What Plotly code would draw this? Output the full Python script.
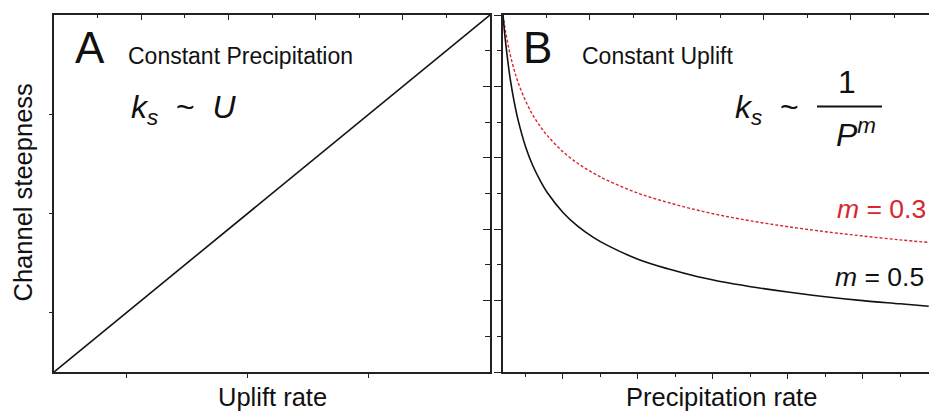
import plotly.graph_objects as go

W, H = 929, 412
FONT = "Liberation Sans, Arial, Helvetica, sans-serif"
INK = "#222222"
RED = "#d8262e"

# Panel A: steepness grows linearly with uplift (arbitrary units)
uplift_rate = [0.4, 4.0]
steepness_uplift = [0.4, 4.0]
uplift_ticks = [1, 2, 3]

# Panel B: steepness falls with precipitation for two concavity exponents
precip_rate = [1.0, 1.1, 1.2, 1.35, 1.5, 1.75, 2.0, 2.5, 3.0, 3.5, 4.0, 5.0, 6.0,
               7.0, 8.0, 10.0, 12.0, 14.0, 16.0, 18.0, 20.0, 22.5, 25.0, 27.5, 29.4]
steepness_m05 = [1.000, 0.953, 0.913, 0.861, 0.816, 0.756, 0.707, 0.632, 0.577,
                 0.535, 0.500, 0.447, 0.408, 0.378, 0.354, 0.316, 0.289, 0.267,
                 0.250, 0.236, 0.224, 0.211, 0.200, 0.191, 0.184]
steepness_m03 = [1.000, 0.972, 0.947, 0.914, 0.885, 0.846, 0.812, 0.760, 0.719,
                 0.687, 0.660, 0.617, 0.584, 0.558, 0.536, 0.501, 0.475, 0.453,
                 0.435, 0.420, 0.407, 0.393, 0.381, 0.370, 0.363]


def px(x):
    return x / W


def py(y):
    return 1 - y / H


XA = [px(54), px(490)]
XB = [px(503), 1.0]
YD = [py(372), py(15)]

fig = go.Figure()

fig.add_trace(go.Scatter(x=uplift_rate, y=steepness_uplift, mode="lines",
                         line=dict(color="#111111", width=1.6),
                         xaxis="x", yaxis="y", hoverinfo="skip"))
fig.add_trace(go.Scatter(x=precip_rate, y=steepness_m03, mode="lines",
                         line=dict(color=RED, width=1.4, dash="3px,2px", shape="spline"),
                         xaxis="x2", yaxis="y2", hoverinfo="skip"))
fig.add_trace(go.Scatter(x=precip_rate, y=steepness_m05, mode="lines",
                         line=dict(color="#111111", width=1.6, shape="spline"),
                         xaxis="x2", yaxis="y2", hoverinfo="skip"))
# empty traces so the frame-only axes get their subplots
for xa, ya in [("x3", "y"), ("x", "y3"), ("x4", "y2")]:
    fig.add_trace(go.Scatter(x=[], y=[], xaxis=xa, yaxis=ya, hoverinfo="skip"))

base = dict(showgrid=False, zeroline=False, showticklabels=False, showline=True,
            linecolor=INK, linewidth=1.6, tickcolor=INK, tickwidth=1.4)


def minor(dtick, ticks, ticklen, tick0=0):
    return dict(dtick=dtick, tick0=tick0, ticks=ticks, ticklen=ticklen,
                tickcolor=INK, tickwidth=1.3, showgrid=False)


fig.update_layout(
    width=W, height=H, margin=dict(l=0, r=0, t=0, b=0),
    paper_bgcolor="white", plot_bgcolor="white", showlegend=False,
    # panel A frame
    xaxis=dict(base, domain=XA, range=[0.4, 4.0], anchor="y",
               tickvals=uplift_ticks, ticks="outside", ticklen=4),
    yaxis=dict(base, domain=YD, range=[0.4, 4.0], anchor="x",
               tickvals=uplift_ticks, ticks="outside", ticklen=3),
    xaxis3=dict(base, overlaying="x", side="top", anchor="y", range=[0, 10],
                tick0=0, dtick=2, ticks="inside", ticklen=5,
                minor=minor(1, "inside", 3)),
    yaxis3=dict(base, overlaying="y", side="right", anchor="x", range=[0, 10],
                tick0=0, dtick=2, ticks="inside", ticklen=7,
                minor=minor(1, "inside", 5)),
    # panel B frame
    xaxis2=dict(base, domain=XB, range=[1.0, 29.42], anchor="y2",
                tick0=0, dtick=5, ticks="outside", ticklen=5,
                minor=minor(2.5, "outside", 3)),
    yaxis2=dict(base, domain=YD, range=[0, 1], anchor="x2",
                tick0=0, dtick=0.2, ticks="outside", ticklen=7,
                minor=minor(0.1, "outside", 4)),
    xaxis4=dict(base, overlaying="x2", side="top", anchor="y2", range=[0, 9.8],
                tick0=0, dtick=2, ticks="inside", ticklen=5,
                minor=minor(1, "inside", 3)),
)


def label(text, x, y, size, xanchor="left", yanchor="middle", color="#111111",
          angle=0):
    fig.add_annotation(text=text, x=px(x), y=py(y), xref="paper", yref="paper",
                       xanchor=xanchor, yanchor=yanchor, showarrow=False,
                       textangle=angle, font=dict(family=FONT, size=size, color=color))


NB = "\u00a0"

# axis titles
label("Channel steepness", 23, 192.5, 25.5, xanchor="center", angle=-90)
label("Uplift rate", 272.5, 396.5, 25.5, xanchor="center")
label("Precipitation rate", 721, 396.5, 25.5, xanchor="center")

# panel letters and headings
label("A", 73, 47.5, 44)
label("B", 521, 47.5, 44)
label("Constant Precipitation", 126, 55.5, 23)
label("Constant Uplift", 580, 55.5, 23)

# scaling relations
label("<i>k</i><sub><i>s</i></sub>" + NB * 2 + "~" + NB * 2 + "<i>U</i>", 129, 109, 32)
label("<i>k</i><sub><i>s</i></sub>" + NB * 2 + "~", 733, 109, 32)
label("1", 847, 82, 32, xanchor="center")
label("<i>P</i><sup><i>m</i></sup>", 834, 133, 32)
fig.add_shape(type="line", xref="paper", yref="paper",
              x0=px(817), x1=px(882), y0=py(106.5), y1=py(106.5),
              line=dict(color="#111111", width=2))

# exponent labels
label("<i>m</i>" + NB + "=" + NB + "0.3", 928, 208.5, 26.5, xanchor="right", color=RED)
label("<i>m</i>" + NB + "=" + NB + "0.5", 926, 276.5, 26.5, xanchor="right")

fig.write_html("out.html")
